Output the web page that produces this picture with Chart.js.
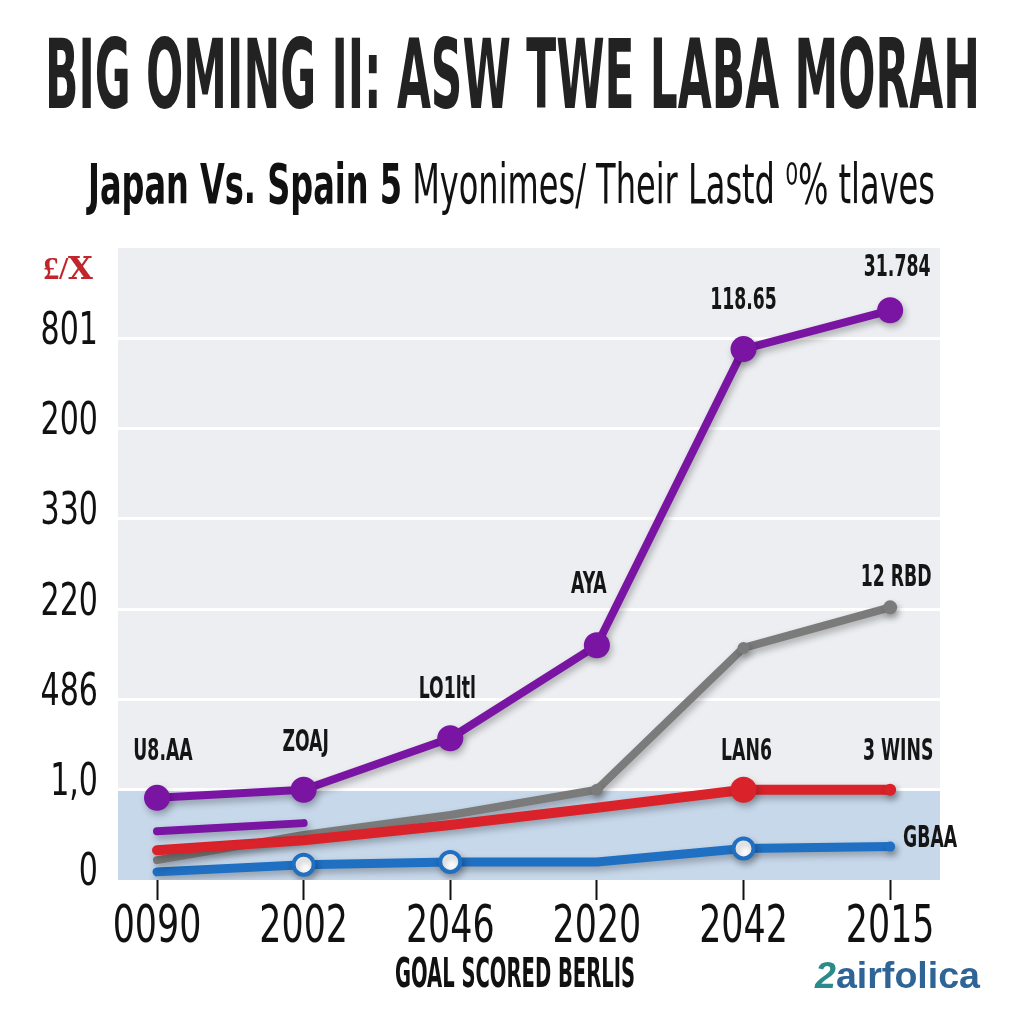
<!DOCTYPE html>
<html>
<head>
<meta charset="utf-8">
<script src="https://cdn.jsdelivr.net/npm/chart.js@4.4.1/dist/chart.umd.min.js"></script>
<style>
  html,body{margin:0;padding:0;background:#fff;width:1024px;height:1024px;overflow:hidden;}
  #wrap{position:relative;width:1024px;height:1024px;}
  canvas{position:absolute;left:0;top:0;}
  .t{position:absolute;white-space:nowrap;line-height:1;transform-origin:0 0;font-family:"DejaVu Sans Condensed","DejaVu Sans",sans-serif;}
  #title{left:45px;top:27px;font-size:96px;font-weight:bold;color:#222;}
  #subtitle{left:88px;top:156px;font-size:56px;color:#111;}
  #subtitle b{font-weight:bold;}
  #xtitle{left:395px;top:953px;font-size:41px;font-weight:bold;color:#111;}
  #wm{left:815px;top:958px;font-size:36px;font-weight:bold;color:#2e6496;font-family:"Liberation Sans","Open Sans",sans-serif;}
  #wm i{color:#2b8a8a;}
</style>
</head>
<body>
<div id="wrap">
  <canvas id="c" width="1024" height="1024"></canvas>
  <div class="t" id="title" data-w="935">BIG OMING II: ASW TWE LABA MORAH</div>
  <div class="t" id="subtitle" data-w="847"><b>Japan Vs. Spain 5</b> Myonimes/ Their Lastd ⁰% tlaves</div>
  <div class="t" id="xtitle" data-w="240">GOAL SCORED BERLIS</div>
  <div class="t" id="wm" data-w="165"><i>2</i>airfolica</div>
</div>
<script>
// ---- data ----
const categories = ['0090', '2002', '2046', '2020', '2042', '2015'];
const yTickLabels = ['0', '1,0', '486', '220', '330', '200', '801'];
const yCornerLabel = '£/Ⅹ';
const purpleMain = [0.91, 1.0, 1.57, 2.60, 5.88, 6.31];
const purpleShort = [0.54, 0.63];
const redVals = [0.33, 0.44, 0.61, 0.80, 1.0, 1.0];
const greyVals = [0.22, 0.50, 0.72, 1.0, 2.57, 3.02];
const blueVals = [0.09, 0.17, 0.20, 0.20, 0.35, 0.37];
const purpleLabels = ['U8.AA', 'ZOAJ', 'LO1ltl', 'AYA', '118.65', '31.784'];
const greyLabels = ['', '', '', '', '', '12 RBD'];
const redLabels = ['', '', '', '', 'LAN6', '3 WINS'];
const blueLabels = ['', '', '', '', '', 'GBAA'];

// ---- styles ----
const CONDENSED = '"DejaVu Sans Condensed","DejaVu Sans",sans-serif';
const PURPLE = '#7a14a3', RED = '#d92229', GREY = '#7b7b7b', BLUE = '#1f6fc2';
const toPts = arr => arr.map((v, i) => ({x: i, y: v}));

// condensed text rendering on the canvas (horizontal squeeze around the anchor point)
const canvas = document.getElementById('c');
const ctx2d = canvas.getContext('2d');
let textSqueeze = 0.76;
const origFillText = ctx2d.fillText.bind(ctx2d);
ctx2d.fillText = function (text, x, y, maxWidth) {
  this.save();
  this.translate(x, y);
  this.scale(textSqueeze, 1);
  if (maxWidth !== undefined) origFillText(text, 0, 0, maxWidth / textSqueeze);
  else origFillText(text, 0, 0);
  this.restore();
};

// label offsets (style, not data)
const labelOffsets = {
  0: [[6,-46],[2,-47],[-3,-48],[-8,-60],[0,-48],[7,-42]],
  3: [null,null,null,null,null,[6,-29]],
  2: [null,null,null,null,[3,-38],[8,-38]],
  4: [null,null,null,null,null,[40,-7]]
};
const labelTexts = {0: purpleLabels, 3: greyLabels, 2: redLabels, 4: blueLabels};

const bgPlugin = {
  id: 'bg',
  beforeDraw(chart) {
    const {ctx, chartArea: a, scales: {y}} = chart;
    ctx.save();
    ctx.fillStyle = '#eceef1';
    ctx.fillRect(a.left, a.top, a.right - a.left, a.bottom - a.top);
    const y1 = y.getPixelForValue(1), y0 = y.getPixelForValue(0);
    ctx.fillStyle = '#c7d8eb';
    ctx.fillRect(a.left, y1, a.right - a.left, y0 - y1);
    ctx.restore();
  }
};
const shadowPlugin = {
  id: 'shadow',
  beforeDatasetDraw(chart) {
    const ctx = chart.ctx;
    ctx.save();
    ctx.shadowColor = 'rgba(0,0,0,0.28)';
    ctx.shadowBlur = 7;
    ctx.shadowOffsetX = 2;
    ctx.shadowOffsetY = 4;
  },
  afterDatasetDraw(chart) { chart.ctx.restore(); }
};
const labelPlugin = {
  id: 'labels',
  afterDatasetsDraw(chart) {
    const ctx = chart.ctx;
    ctx.save();
    const prev = textSqueeze;
    textSqueeze = 0.64;
    ctx.fillStyle = '#151515';
    ctx.textAlign = 'center';
    ctx.textBaseline = 'middle';
    ctx.font = 'bold 30px ' + CONDENSED;
    Object.keys(labelTexts).forEach(di => {
      const meta = chart.getDatasetMeta(+di);
      labelTexts[di].forEach((txt, i) => {
        if (!txt) return;
        const o = labelOffsets[di][i];
        const p = meta.data[i];
        ctx.fillText(txt, p.x + o[0], p.y + o[1]);
      });
    });
    // corner label of the value axis
    textSqueeze = 1;
    const y = chart.scales.y;
    ctx.fillStyle = '#c0262c';
    ctx.font = 'bold 32px "Liberation Serif","DejaVu Serif",serif';
    ctx.fillText(yCornerLabel, 68, y.getPixelForValue(6.75));
    textSqueeze = prev;
    ctx.restore();
  }
};

new Chart(canvas, {
  type: 'line',
  data: {
    datasets: [
      {data: toPts(purpleMain), borderColor: PURPLE, backgroundColor: PURPLE, borderWidth: 8,
       pointRadius: 13, pointHoverRadius: 13, pointBorderWidth: 0, tension: 0, order: 1},
      {data: toPts(purpleShort), borderColor: PURPLE, borderWidth: 8, pointRadius: 0, order: 2},
      {data: toPts(redVals), borderColor: RED, backgroundColor: RED, borderWidth: 10,
       pointRadius: [0,0,0,0,13,6], pointBorderWidth: 0, order: 3},
      {data: toPts(greyVals), borderColor: GREY, backgroundColor: GREY, borderWidth: 8,
       pointRadius: [0,0,0,6,6,7], pointBorderWidth: 0, order: 4},
      {data: toPts(blueVals), borderColor: BLUE, backgroundColor: ['#fff','#fff','#fff','#fff','#fff',BLUE],
       pointBorderColor: BLUE, borderWidth: 9, pointRadius: [0,10,10,0,10,5], pointBorderWidth: [0,4,4,0,4,0], order: 5}
    ]
  },
  options: {
    responsive: false,
    animation: false,
    events: [],
    datasets: {line: {borderCapStyle: 'round', borderJoinStyle: 'round', tension: 0}},
    layout: {padding: {top: 248, right: 84, left: 0, bottom: 0}},
    plugins: {legend: {display: false}, tooltip: {enabled: false}, title: {display: false}},
    scales: {
      x: {
        type: 'linear', min: -0.266, max: 5.34,
        afterBuildTicks: s => { s.ticks = categories.map((c, i) => ({value: i})); },
        afterFit: s => { s.height = 144; },
        ticks: {callback: v => categories[v], color: '#111', font: {family: CONDENSED, size: 51, lineHeight: 1}, padding: 3, maxRotation: 0, autoSkip: false},
        grid: {drawOnChartArea: false, drawTicks: true, tickLength: 20, tickColor: '#111', tickWidth: 2},
        border: {display: false}
      },
      y: {
        min: 0, max: 7,
        afterBuildTicks: s => { s.ticks = yTickLabels.map((t, i) => ({value: i})); },
        afterFit: s => { s.width = 118; },
        ticks: {callback: v => yTickLabels[v], color: '#111', font: {family: CONDENSED, size: 44, lineHeight: 1}, padding: 20, labelOffset: -6},
        grid: {color: ctx => ctx.tick && ctx.tick.value === 0 ? 'rgba(0,0,0,0)' : '#ffffff', lineWidth: 3, drawTicks: false},
        border: {display: false}
      }
    }
  },
  plugins: [bgPlugin, shadowPlugin, labelPlugin]
});

// fit HTML texts to their reference widths
document.querySelectorAll('.t').forEach(el => {
  const w = +el.dataset.w;
  const r = el.getBoundingClientRect().width;
  el.style.transform = 'scaleX(' + (w / r) + ')';
});
</script>
</body>
</html>
